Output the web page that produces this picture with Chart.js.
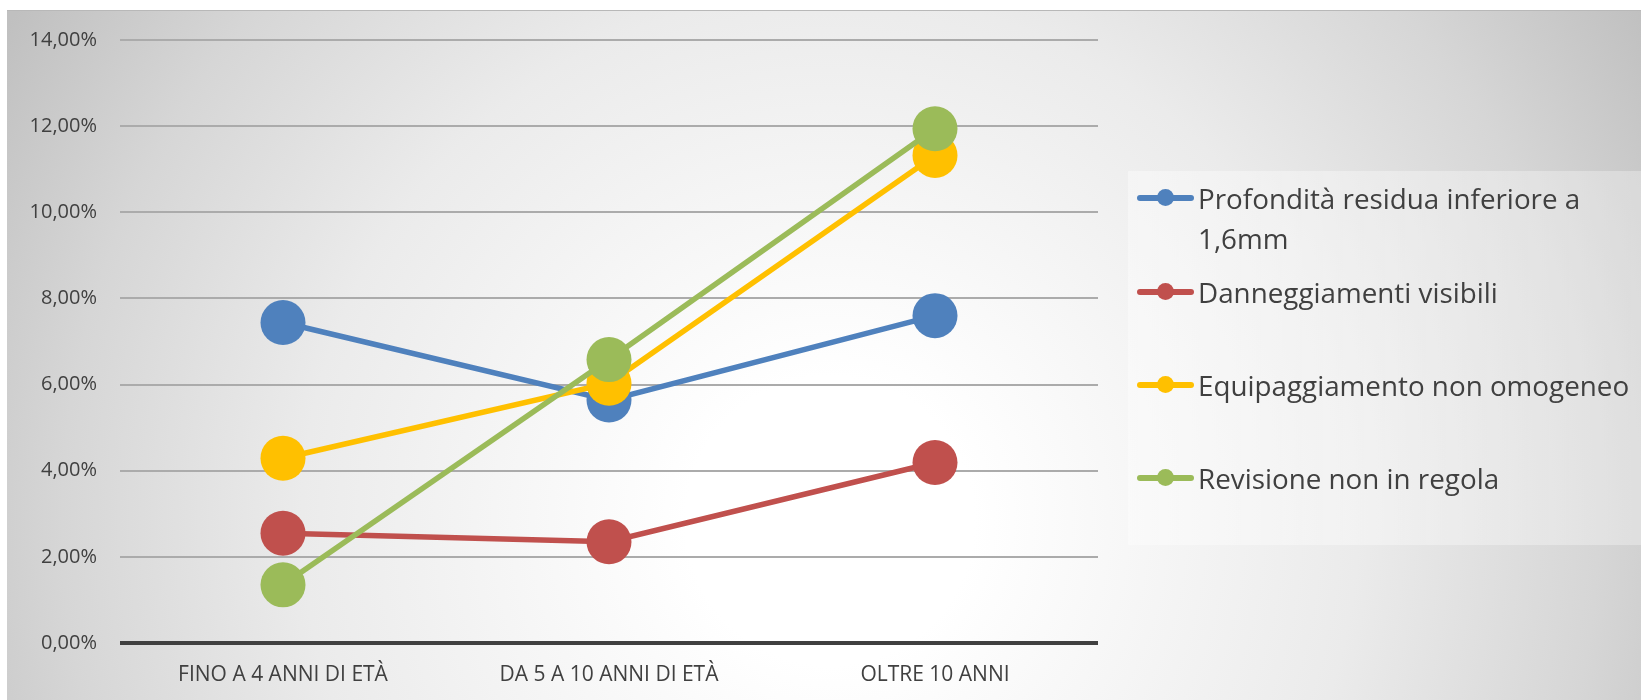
<!DOCTYPE html>
<html lang="it">
<head>
<meta charset="utf-8">
<script src="https://cdn.jsdelivr.net/npm/chart.js@4/dist/chart.umd.min.js"></script>
<style>
  html, body { margin: 0; padding: 0; background: #fff; }
  body { width: 1641px; height: 700px; position: relative; overflow: hidden; font-family: "Open Sans", "Noto Sans", sans-serif; }
  #bg {
    position: absolute; left: 7px; top: 10px; right: 0; bottom: 0;
    border-top: 1px solid #b8b8b8;
    background: radial-gradient(circle 960px at 823px 510px, #ffffff 0%, #ffffff 15%, #ebebeb 55%, #d6d6d6 80%, #c0c0c0 100%);
  }
  #chart { position: absolute; left: 0; top: 0; }
  #legend {
    position: absolute; left: 1128px; top: 171px; width: 513px; height: 374px;
    background: linear-gradient(to right, rgba(255,255,255,0.4), rgba(255,255,255,0.3));
  }
  .item { position: absolute; left: 0; width: 513px; }
  .icon { position: absolute; left: 9px; top: 17px; width: 57px; height: 6px; border-radius: 3px; }
  .icon span { position: absolute; left: 20px; top: -6px; width: 17px; height: 17px; border-radius: 50%; }
  .text { position: absolute; left: 70px; width: 440px; font-size: 27.8px; line-height: 40px; color: #404040; }
</style>
</head>
<body>
<div id="bg"></div>
<canvas id="chart" width="1641" height="700"></canvas>
<div id="legend"></div>
<script>
// categorie (asse X)
const categories = ['FINO A 4 ANNI DI ETÀ', 'DA 5 A 10 ANNI DI ETÀ', 'OLTRE 10 ANNI'];

// serie, valori in %
const profondita = [7.44, 5.64, 7.60];
const danneggiamenti = [2.55, 2.35, 4.19];
const equipaggiamento = [4.29, 6.03, 11.32];
const revisione = [1.35, 6.58, 11.94];

const seriesNames = [
  'Profondità residua inferiore a 1,6mm',
  'Danneggiamenti visibili',
  'Equipaggiamento non omogeneo',
  'Revisione non in regola'
];
const seriesColors = ['#4f81bd', '#c0504d', '#ffc000', '#9bbb59'];

// asse Y
const yMin = 0;
const yMax = 14;
const yStep = 2;

const seriesData = [profondita, danneggiamenti, equipaggiamento, revisione];

const chart = new Chart(document.getElementById('chart'), {
  type: 'line',
  data: {
    labels: categories,
    datasets: seriesData.map((values, i) => ({
      label: seriesNames[i],
      data: values,
      borderColor: seriesColors[i],
      backgroundColor: seriesColors[i],
      pointBackgroundColor: seriesColors[i],
      borderWidth: 5.5,
      pointRadius: 22.5,
      pointHoverRadius: 22.5,
      pointBorderWidth: 0,
      tension: 0,
      fill: false,
      order: seriesData.length - i   // l'ultima serie sta sopra
    }))
  },
  options: {
    responsive: false,
    devicePixelRatio: 1,
    animation: false,
    layout: { padding: { left: 0, top: 40, right: 543, bottom: 0 } },
    scales: {
      x: {
        offset: true,
        grid: { display: false, drawTicks: false },
        border: { display: false },
        ticks: {
          color: '#404040',
          padding: 19,
          maxRotation: 0,
          font: { family: '"Open Sans", "Noto Sans", sans-serif', size: 21 }
        },
        afterFit: (scale) => { scale.height = 57; }
      },
      y: {
        min: yMin,
        max: yMax,
        grid: {
          drawTicks: false,
          color: (ctx) => ctx.tick && ctx.tick.value === 0 ? '#404040' : '#ababab',
          lineWidth: (ctx) => ctx.tick && ctx.tick.value === 0 ? 4 : 2
        },
        border: { display: false },
        ticks: {
          stepSize: yStep,
          color: '#404040',
          padding: 23,
          font: { family: '"Open Sans", "Noto Sans", sans-serif', size: 20 },
          callback: (v) => v.toFixed(2).replace('.', ',') + '%'
        },
        afterFit: (scale) => { scale.width = 120; }
      }
    },
    plugins: {
      legend: { display: false },
      tooltip: { enabled: false }
    }
  }
});

// legenda HTML costruita dai dataset
const legendEl = document.getElementById('legend');
const slotTops = [7, 101, 194, 287];
chart.data.datasets.forEach((ds, i) => {
  const item = document.createElement('div');
  item.className = 'item';
  item.style.top = slotTops[i] + 'px';
  item.innerHTML =
    '<div class="icon" style="background:' + ds.borderColor + '"><span style="background:' + ds.borderColor + '"></span></div>' +
    '<div class="text"></div>';
  item.querySelector('.text').textContent = ds.label;
  legendEl.appendChild(item);
});
</script>
</body>
</html>
